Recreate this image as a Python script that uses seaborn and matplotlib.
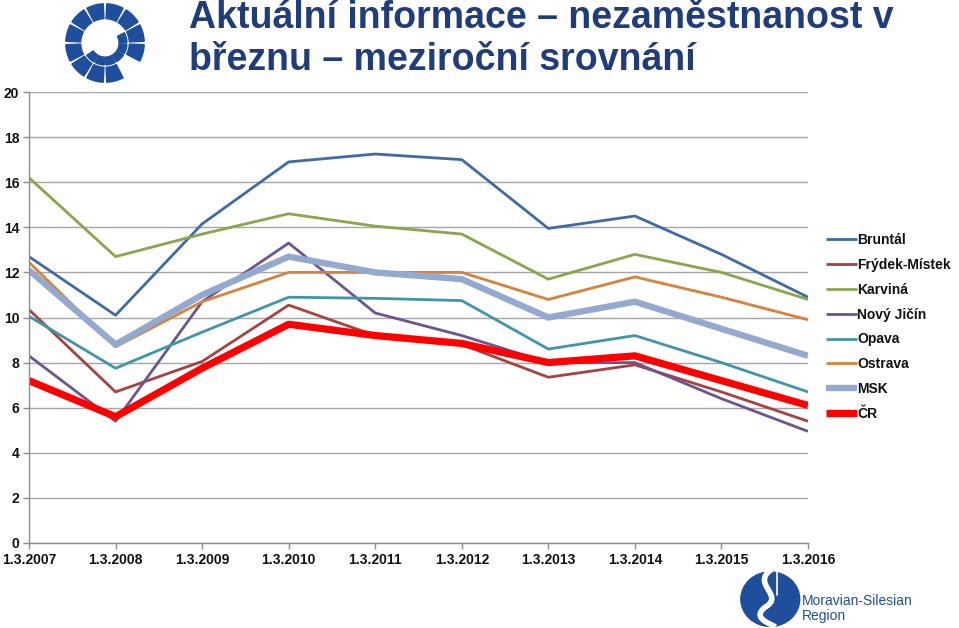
import numpy as np
import pandas as pd
import matplotlib
matplotlib.use('Agg')
import matplotlib.pyplot as plt
import seaborn as sns
from matplotlib.patches import Wedge, Ellipse, PathPatch
from matplotlib.path import Path

# ---------------- data ----------------
dates = ['1.3.2007', '1.3.2008', '1.3.2009', '1.3.2010', '1.3.2011',
         '1.3.2012', '1.3.2013', '1.3.2014', '1.3.2015', '1.3.2016']
bruntal = [12.7, 10.1, 14.15, 16.9, 17.25, 17.0, 13.95, 14.5, 12.8, 10.9]
frydek = [10.35, 6.7, 8.05, 10.55, 9.2, 8.8, 7.35, 7.9, 6.7, 5.4]
karvina = [16.2, 12.7, 13.7, 14.6, 14.05, 13.7, 11.7, 12.8, 12.0, 10.8]
novy_jicin = [8.3, 5.4, 10.7, 13.3, 10.2, 9.2, 8.0, 8.0, 6.4, 4.95]
opava = [10.05, 7.75, 9.35, 10.9, 10.85, 10.75, 8.6, 9.2, 8.0, 6.7]
ostrava = [12.45, 8.7, 10.7, 12.0, 12.0, 12.0, 10.8, 11.8, 10.9, 9.9]
msk = [12.1, 8.8, 11.0, 12.7, 12.0, 11.7, 10.0, 10.7, 9.5, 8.3]
cr = [7.2, 5.6, 7.75, 9.7, 9.2, 8.85, 8.0, 8.3, 7.2, 6.1]

names = ['Bruntál', 'Frýdek-Místek', 'Karviná', 'Nový Jičín', 'Opava',
         'Ostrava', 'MSK', 'ČR']
values = [bruntal, frydek, karvina, novy_jicin, opava, ostrava, msk, cr]

colors = ['#3E6AA8', '#A8423F', '#87A749', '#6E548F', '#3D96AE', '#DA8137',
          '#93A9D0', '#FF0000']
widths = [2.0, 2.0, 2.0, 2.0, 2.0, 2.0, 4.6, 5.2]

title_color = '#1F3C7C'
logo_color = '#1F4F9C'

# ---------------- table ----------------
df = pd.DataFrame({'date': dates})
for n, v in zip(names, values):
    df[n] = v
long = df.melt(id_vars='date', var_name='region', value_name='rate')
long['x'] = long.groupby('region').cumcount()

sns.set_theme(style='white')
plt.rcParams['font.family'] = ['Liberation Sans', 'DejaVu Sans']

W, H = 959, 628
fig = plt.figure(figsize=(W / 100, H / 100), dpi=100)
ax = fig.add_axes([29 / W, 1 - 543 / H, (808 - 29) / W, (543 - 92) / H])

for n, c, w in zip(names, colors, widths):
    sub = long[long['region'] == n]
    sns.lineplot(data=sub, x='x', y='rate', color=c, linewidth=w, ax=ax,
                 label=n, solid_joinstyle='round', solid_capstyle='butt')

ax.set_xlim(0, len(dates) - 1)
ax.set_ylim(0, 20)
ax.set_yticks(np.arange(0, 21, 2))
ax.set_yticklabels([str(v) for v in range(0, 21, 2)])
ax.set_xticks(range(len(dates)))
ax.set_xticklabels(dates)
ax.set_xlabel('')
ax.set_ylabel('')
for s in ['top', 'right']:
    ax.spines[s].set_visible(False)
for s in ['left', 'bottom']:
    ax.spines[s].set_color('#8C8C8C')
    ax.spines[s].set_linewidth(1.0)
ax.yaxis.grid(True, color='#A6A6A6', linewidth=1.0)
ax.set_axisbelow(True)
ax.tick_params(axis='both', which='major', direction='out', length=4,
               width=1, color='#8C8C8C', labelsize=10, pad=3,
               left=True, bottom=True)
for lab in ax.get_xticklabels() + ax.get_yticklabels():
    lab.set_fontweight('bold')
    lab.set_color('#111111')

leg = ax.legend(loc='center left', bbox_to_anchor=(826 / W, 1 - 327 / H),
                bbox_transform=fig.transFigure, frameon=False,
                handlelength=2.2, handletextpad=0.05, labelspacing=0.78,
                borderpad=0, borderaxespad=0,
                prop={'weight': 'bold', 'size': 10})
for t in leg.get_texts():
    t.set_color('#111111')

# ---------------- title ----------------
fig.text(189 / W, 1 - 18 / H, 'Aktuální informace – nezaměstnanost v',
         color=title_color, fontsize=27, fontweight='bold', va='center')
fig.text(189 / W, 1 - 60 / H, 'březnu – meziroční srovnání',
         color=title_color, fontsize=27, fontweight='bold', va='center')

# ---------------- top-left logo ----------------
lax = fig.add_axes([65 / W, 1 - 83 / H, 80 / W, 80 / H])
lax.set_xlim(-1.02, 1.02)
lax.set_ylim(-1.02, 1.02)
lax.set_aspect('equal')
lax.axis('off')
for k in range(12):
    a0 = k * 30 + 2.5
    a1 = (k + 1) * 30 - 2.5
    if k == 10:   # opening at lower right
        continue
    lax.add_patch(Wedge((0, 0), 1.0, a0, a1, width=0.38, color=logo_color))
for a0, a1 in [(214, 240), (244, 268), (272, 298), (302, 327), (331, 357),
               (1, 28)]:
    lax.add_patch(Wedge((0, 0), 0.56, a0, a1, width=0.2, color=logo_color))

# ---------------- bottom-right logo ----------------
bax = fig.add_axes([737 / W, 1 - 627 / H, 64 / W, 58 / H])
bax.set_xlim(0, 1)
bax.set_ylim(0, 1)
bax.axis('off')
bax.add_patch(Ellipse((0.52, 0.48), 0.92, 0.94, color=logo_color))
verts = [(0.55, 1.0), (0.2, 0.75), (0.75, 0.55), (0.45, 0.35),
         (0.2, 0.15), (0.55, 0.05), (0.6, 0.0)]
codes = [Path.MOVETO, Path.CURVE4, Path.CURVE4, Path.CURVE4,
         Path.CURVE4, Path.CURVE4, Path.CURVE4]
bax.add_patch(PathPatch(Path(verts, codes), facecolor='none',
                        edgecolor='white', linewidth=4))
bax.plot([0.62, 0.62], [0.55, 0.98], color='white', linewidth=1.2)
fig.text(802 / W, 1 - 601 / H, 'Moravian-Silesian', color=logo_color,
         fontsize=10, va='center')
fig.text(802 / W, 1 - 616 / H, 'Region', color=logo_color,
         fontsize=10, va='center')

fig.savefig('out.png', dpi=100)
